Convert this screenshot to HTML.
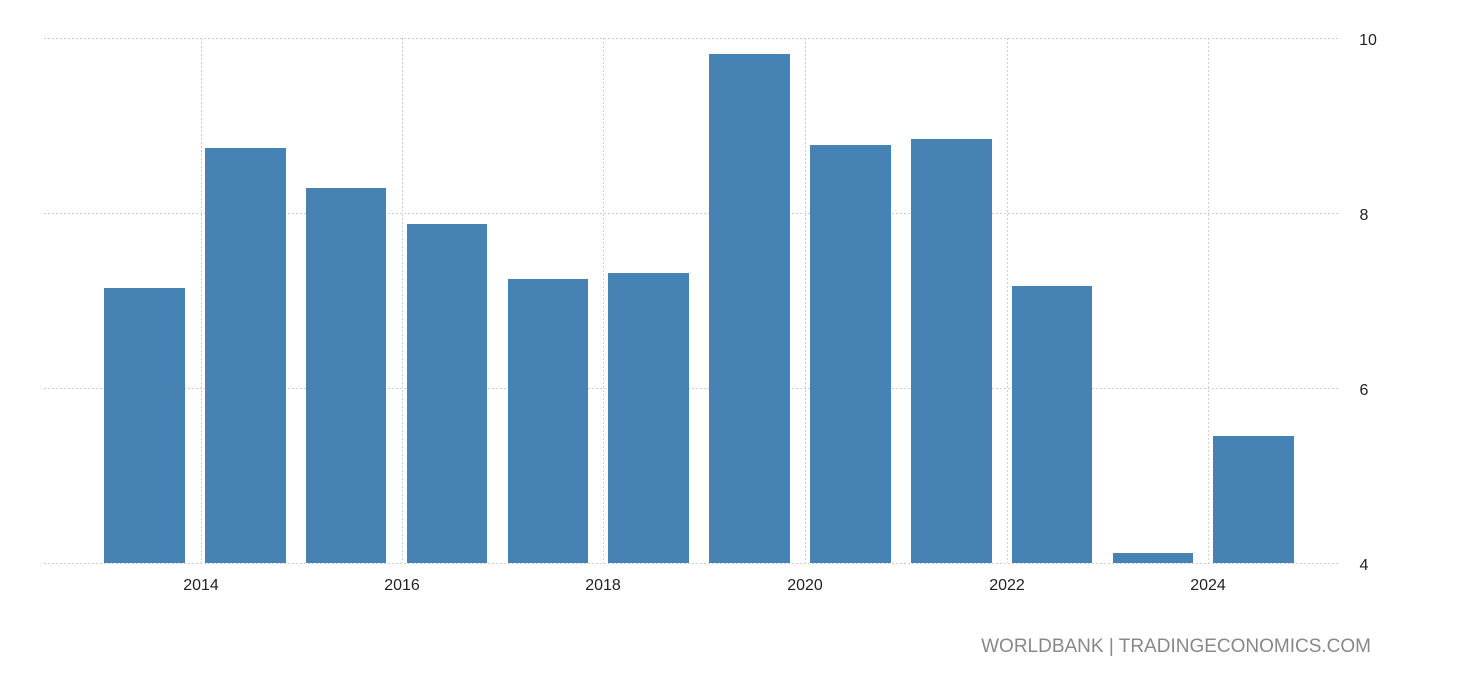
<!DOCTYPE html>
<html><head><meta charset="utf-8"><style>
body{margin:0;background:#fff;}
svg text{font-family:"Liberation Sans","DejaVu Sans",sans-serif;}
</style></head><body>
<svg width="1460" height="680" xmlns="http://www.w3.org/2000/svg">
<g stroke="#d0d0d0" stroke-width="1" stroke-dasharray="2,2">
<line x1="44" y1="38.5" x2="1340" y2="38.5"/>
<line x1="44" y1="213.5" x2="1340" y2="213.5"/>
<line x1="44" y1="388.5" x2="1340" y2="388.5"/>
<line x1="201.5" y1="38" x2="201.5" y2="563"/>
<line x1="402.5" y1="38" x2="402.5" y2="563"/>
<line x1="603.5" y1="38" x2="603.5" y2="563"/>
<line x1="805.5" y1="38" x2="805.5" y2="563"/>
<line x1="1007.5" y1="38" x2="1007.5" y2="563"/>
<line x1="1208.5" y1="38" x2="1208.5" y2="563"/>
</g>
<line x1="44" y1="563.5" x2="1340" y2="563.5" stroke="#d0d0d0" stroke-dasharray="2,2"/>
<g fill="#4682b4">
<rect x="104" y="288" width="81" height="275"/>
<rect x="205" y="148" width="81" height="415"/>
<rect x="306" y="188" width="80" height="375"/>
<rect x="407" y="224" width="80" height="339"/>
<rect x="508" y="279" width="80" height="284"/>
<rect x="608" y="273" width="81" height="290"/>
<rect x="709" y="54" width="81" height="509"/>
<rect x="810" y="145" width="81" height="418"/>
<rect x="911" y="139" width="81" height="424"/>
<rect x="1012" y="286" width="80" height="277"/>
<rect x="1113" y="553" width="80" height="10"/>
<rect x="1213" y="436" width="81" height="127"/>
</g>
<g font-size="16" fill="#222">
<text x="1368" y="45" text-anchor="middle">10</text>
<text x="1364" y="220" text-anchor="middle">8</text>
<text x="1364" y="395" text-anchor="middle">6</text>
<text x="1364" y="570" text-anchor="middle">4</text>
<text x="201" y="590" text-anchor="middle">2014</text>
<text x="402" y="590" text-anchor="middle">2016</text>
<text x="603" y="590" text-anchor="middle">2018</text>
<text x="805" y="590" text-anchor="middle">2020</text>
<text x="1007" y="590" text-anchor="middle">2022</text>
<text x="1208" y="590" text-anchor="middle">2024</text>
</g>
<text x="1371" y="652" text-anchor="end" font-size="19" fill="#888">WORLDBANK | TRADINGECONOMICS.COM</text>
</svg>
</body></html>
